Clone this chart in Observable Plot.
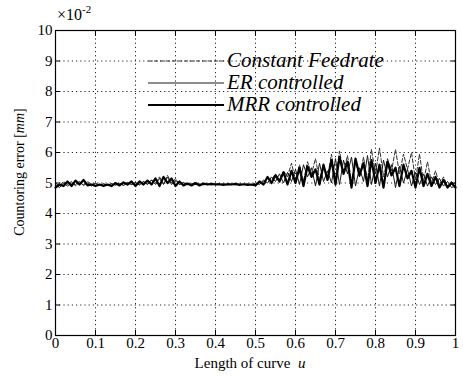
<!DOCTYPE html>
<html><head><meta charset="utf-8">
<script src="https://cdn.jsdelivr.net/npm/d3@7"></script>
<script src="https://cdn.jsdelivr.net/npm/@observablehq/plot@0.6"></script>
<style>
body{margin:0;background:#fff;}
#wrap{position:relative;width:463px;height:376px;}
</style></head><body><div id="wrap"></div>
<script>
const u = [0,0.01,0.02,0.03,0.04,0.05,0.06,0.07,0.08,0.09,
0.10,0.11,0.12,0.13,0.14,0.15,0.16,0.17,0.18,0.19,
0.20,0.21,0.22,0.23,0.24,0.25,0.26,0.27,0.28,0.29,
0.30,0.31,0.32,0.33,0.34,0.35,0.36,0.37,0.38,0.39,
0.40,0.41,0.42,0.43,0.44,0.45,0.46,0.47,0.48,0.49,
0.50,0.51,0.52,0.53,0.54,0.55,0.56,0.57,0.58,0.59,
0.60,0.61,0.62,0.63,0.64,0.65,0.66,0.67,0.68,0.69,
0.70,0.71,0.72,0.73,0.74,0.75,0.76,0.77,0.78,0.79,
0.80,0.81,0.82,0.83,0.84,0.85,0.86,0.87,0.88,0.89,
0.90,0.91,0.92,0.93,0.94,0.95,0.96,0.97,0.98,0.99,1.00];

const constantFeedrate = [5.0,4.9,5.05,4.95,5.05,4.9,5.0,4.95,5.05,4.95,
5.0,4.93,4.98,4.92,4.97,4.94,5.0,4.93,5.02,4.95,
5.0,4.95,5.05,4.96,5.1,5.0,5.2,4.98,5.25,5.0,
5.15,4.95,5.02,4.94,4.98,4.95,4.97,4.95,4.96,4.94,
4.97,4.95,4.96,4.94,4.97,4.95,4.96,4.95,4.97,4.94,
4.95,5.0,5.05,5.15,5.1,5.3,5.1,5.4,5.2,5.65,
5.1,5.6,5.05,5.7,5.3,5.8,5.1,5.6,5.2,5.95,
5.1,6.05,5.35,5.9,5.05,5.7,5.2,5.85,5.1,6.1,
5.3,6.15,5.2,5.8,5.4,6.1,5.3,5.95,5.45,6.0,
5.1,5.95,5.05,5.7,5.0,5.4,4.95,5.2,4.9,5.05,4.9];

const erControlled = [4.95,4.85,5.0,4.9,5.0,4.95,5.05,4.92,5.0,4.9,
4.98,4.92,4.97,4.92,4.98,4.93,4.98,4.92,5.0,4.95,
5.02,4.93,5.05,4.95,5.1,4.95,5.15,4.95,5.2,4.95,
5.1,4.95,5.0,4.95,4.97,4.95,4.96,4.94,4.97,4.95,
4.96,4.95,4.97,4.95,4.96,4.94,4.96,4.95,4.96,4.94,
5.0,4.95,5.1,5.0,5.2,5.05,5.3,5.0,5.35,5.05,
5.45,4.95,5.6,5.2,5.5,4.9,5.65,5.05,5.4,5.0,
5.8,4.95,5.75,5.3,5.85,4.9,5.5,5.05,5.9,4.95,
5.65,4.9,5.75,5.2,5.6,4.85,5.55,5.0,5.45,4.9,
5.35,4.95,5.3,4.9,5.2,4.95,5.15,4.9,5.05,4.85,4.9];

const mrrControlled = [4.85,4.95,4.9,5.05,4.9,5.08,4.95,5.1,4.92,4.95,
4.9,4.95,4.9,4.95,4.9,5.0,4.92,5.02,4.95,5.05,
4.9,5.05,4.95,5.08,4.95,5.15,4.9,5.2,5.0,5.15,
4.9,5.05,4.92,4.98,4.92,5.0,4.92,4.98,4.95,4.97,
4.95,4.96,4.94,4.96,4.95,4.97,4.94,4.96,4.94,4.95,
4.92,5.05,4.95,5.2,5.0,5.25,5.05,5.35,4.95,5.4,
5.0,5.5,4.9,5.55,5.2,5.45,4.95,5.6,5.1,5.75,
4.95,5.85,5.3,5.7,4.85,5.8,5.25,5.65,4.9,5.75,
5.0,5.6,4.85,5.7,5.25,5.5,4.9,5.6,5.15,5.4,
4.85,5.5,4.9,5.3,4.9,5.2,4.85,5.1,4.85,5.0,4.85];

const seriesNames = ["Constant Feedrate", "ER controlled", "MRR controlled"];
const xTicks = [0,0.1,0.2,0.3,0.4,0.5,0.6,0.7,0.8,0.9,1];
const xTickLabels = ["0","0.1","0.2","0.3","0.4","0.5","0.6","0.7","0.8","0.9","1"];
const yTicks = [0,1,2,3,4,5,6,7,8,9,10];
const yTickLabels = ["0","1","2","3","4","5","6","7","8","9","10"];

const rows = [];
const seriesValues = [constantFeedrate, erControlled, mrrControlled];
seriesValues.forEach((vals, s) => vals.forEach((v, i) => rows.push({u: u[i], e: v, series: seriesNames[s]})));

const font = "Liberation Serif";
const gridStyle = {stroke: "#000", strokeOpacity: 0.85, strokeDasharray: "1.2,3", strokeWidth: 1};

const plot = Plot.plot({
  width: 463, height: 376,
  marginLeft: 55, marginRight: 8, marginTop: 30, marginBottom: 41,
  x: {domain: [0, 1]},
  y: {domain: [0, 10]},
  style: {fontFamily: font, fontSize: "15px", background: "#fff", color: "#000", overflow: "visible"},
  marks: [
    Plot.gridX(xTicks, gridStyle),
    Plot.gridY(yTicks, gridStyle),
    Plot.line(rows.filter(d => d.series === seriesNames[0]), {x: "u", y: "e", stroke: "#333", strokeWidth: 1, strokeDasharray: "4,2"}),
    Plot.line(rows.filter(d => d.series === seriesNames[1]), {x: "u", y: "e", stroke: "#1a1a1a", strokeWidth: 1}),
    Plot.line(rows.filter(d => d.series === seriesNames[2]), {x: "u", y: "e", stroke: "#000", strokeWidth: 2.2}),
    Plot.frame({stroke: "#000", strokeWidth: 1.2}),
    Plot.axisX(xTicks, {anchor: "bottom", tickSize: 0, tickPadding: 2, label: null, tickFormat: (d, i) => xTickLabels[i]}),
    Plot.axisY(yTicks, {anchor: "left", tickSize: 0, tickPadding: 3, label: null, tickFormat: (d, i) => yTickLabels[i]}),
    Plot.axisX(xTicks, {anchor: "bottom", tickSize: -5, label: null, tickFormat: () => ""}),
    Plot.axisX(xTicks, {anchor: "top", tickSize: -5, label: null, tickFormat: () => ""}),
    Plot.axisY(yTicks, {anchor: "left", tickSize: -5, label: null, tickFormat: () => ""}),
    Plot.axisY(yTicks, {anchor: "right", tickSize: -5, label: null, tickFormat: () => ""})
  ]
});
document.getElementById("wrap").appendChild(plot);

const svg = d3.select(plot);
// exponent label
const ex = svg.append("text").attr("x", 57).attr("y", 20).attr("text-anchor", "start").attr("font-family", font).attr("font-size", 16).attr("fill", "#000");
ex.append("tspan").text("×10");
ex.append("tspan").attr("dy", -7).attr("font-size", 11).text("-2");

// axis titles
const xl = svg.append("text").attr("x", 250).attr("y", 368).attr("text-anchor", "middle").attr("font-family", font).attr("font-size", 15).attr("fill", "#000");
xl.append("tspan").text("Length of curve  ");
xl.append("tspan").attr("font-style", "italic").text("u");
const yl = svg.append("text").attr("transform", "translate(24,172) rotate(-90)").attr("text-anchor", "middle").attr("font-family", font).attr("font-size", 14).attr("fill", "#000");
yl.append("tspan").text("Countoring error [");
yl.append("tspan").attr("font-style", "italic").text("mm");
yl.append("tspan").text("]");

// legend
const legendY = [61, 83, 105];
const legendStyles = [
  {stroke: "#333", w: 1, dash: "4,2"},
  {stroke: "#1a1a1a", w: 1, dash: null},
  {stroke: "#000", w: 2.2, dash: null}
];
seriesNames.forEach((name, i) => {
  const st = legendStyles[i];
  const ln = svg.append("line").attr("x1", 148).attr("x2", 224).attr("y1", legendY[i]).attr("y2", legendY[i])
    .attr("stroke", st.stroke).attr("stroke-width", st.w);
  if (st.dash) ln.attr("stroke-dasharray", st.dash);
  svg.append("text").attr("x", 227).attr("y", legendY[i] + 6).attr("text-anchor", "start").attr("font-family", font).attr("font-size", 21)
    .attr("font-style", "italic").attr("fill", "#000").text(name);
});
</script>
</body></html>
